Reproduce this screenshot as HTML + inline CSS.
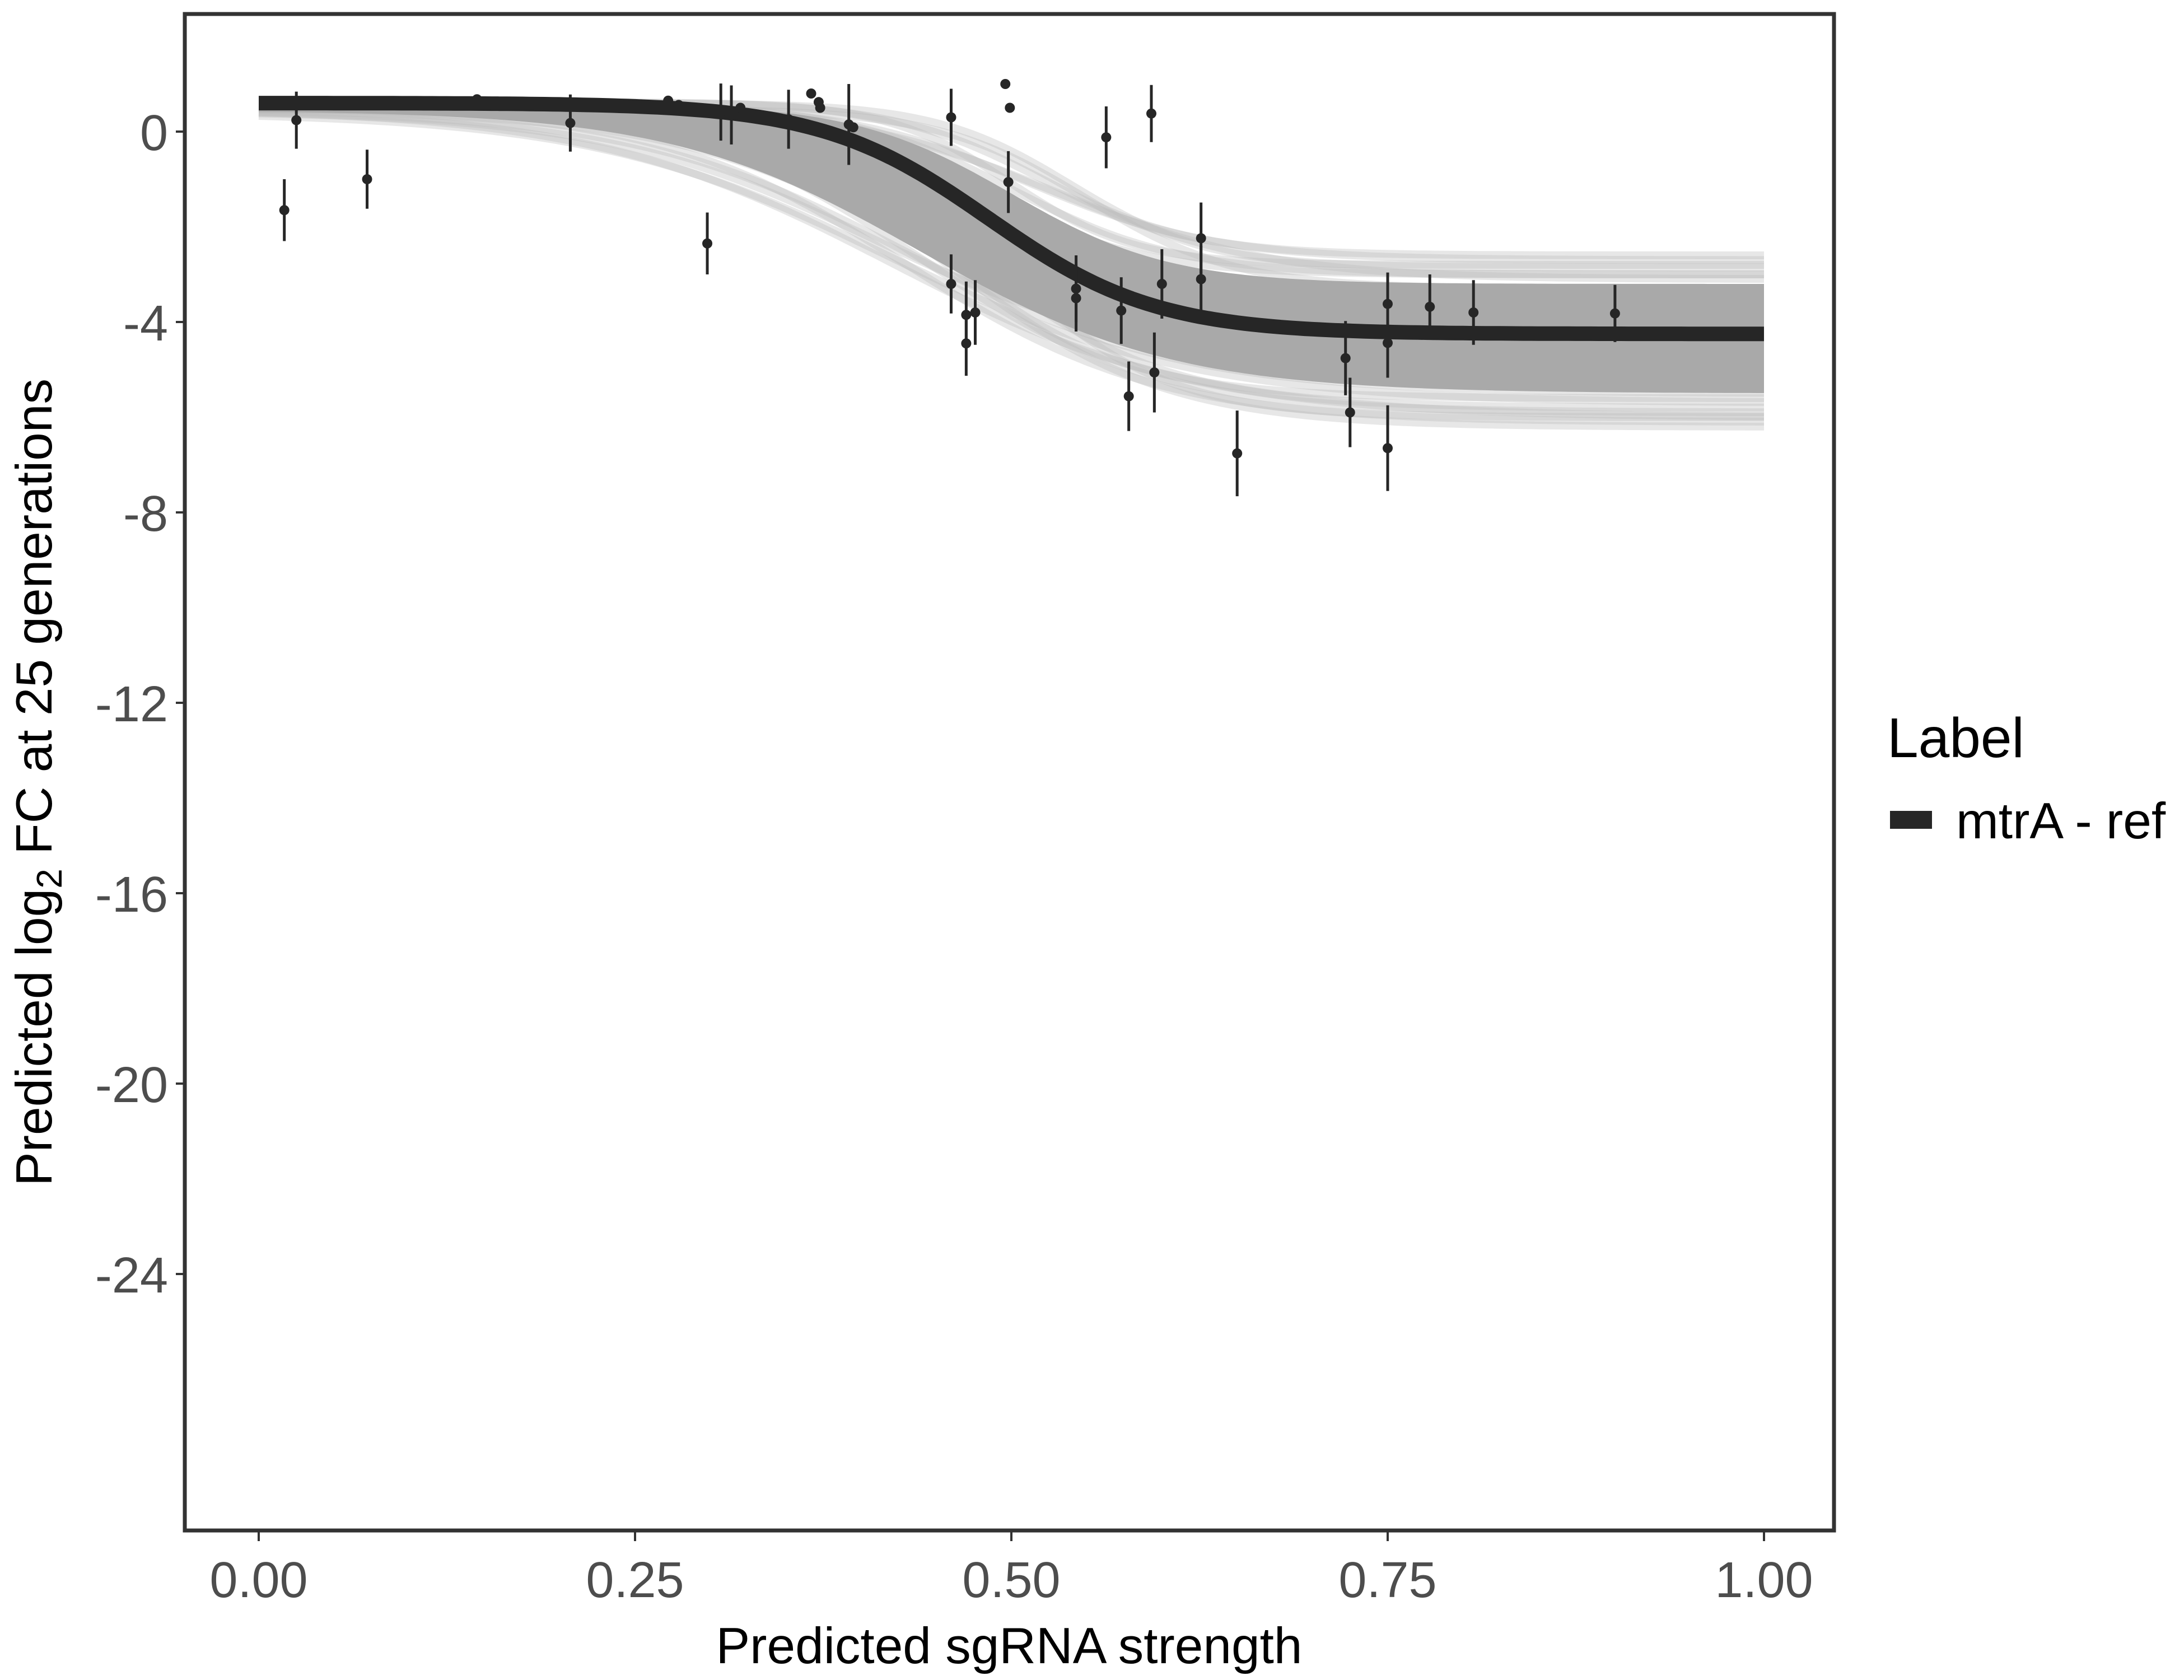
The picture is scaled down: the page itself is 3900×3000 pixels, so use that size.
<!DOCTYPE html>
<html><head><meta charset="utf-8"><style>html,body{margin:0;padding:0;background:#fff}svg{display:block}text{font-family:"Liberation Sans",sans-serif}</style></head>
<body>
<svg id="chart" width="3900" height="3000" viewBox="0 0 3900 3000" xmlns="http://www.w3.org/2000/svg">
<rect x="0" y="0" width="3900" height="3000" fill="#fff"/>
<g id="draws"></g>
<g id="main"></g>
<g id="pts"></g>
<rect x="330" y="25" width="2945" height="2708" fill="none" stroke="#333" stroke-width="7"/>
<g id="axes"></g>
<text x="1802" y="2970" font-size="91" text-anchor="middle" fill="#000">Predicted sgRNA strength</text>
<text transform="translate(92,1397) rotate(-90)" font-size="91" text-anchor="middle" fill="#000">Predicted  log<tspan font-size="64" dy="18">2</tspan><tspan dy="-18"> FC at 25 generations</tspan></text>
<text x="3370" y="1352" font-size="100" fill="#000">Label</text>
<rect x="3375" y="1448" width="75" height="32" fill="#262626"/>
<text x="3493" y="1497" font-size="91" fill="#000">mtrA - ref</text>
</svg>
<script>
const xTicks=[0,0.25,0.5,0.75,1];
const xTickLabels=["0.00","0.25","0.50","0.75","1.00"];
const yTicks=[0,-4,-8,-12,-16,-20,-24];
const yTickLabels=["0","-4","-8","-12","-16","-20","-24"];
const ptX=[0.017,0.025,0.072,0.145,0.207,0.272,0.279,0.298,0.307,0.314,0.32,0.352,0.367,0.372,0.373,0.392,0.395,0.46,0.46,0.47,0.47,0.476,0.496,0.499,0.498,0.543,0.543,0.563,0.573,0.578,0.593,0.595,0.6,0.626,0.626,0.65,0.722,0.725,0.75,0.75,0.75,0.778,0.807,0.901];
const ptY=[-1.65,0.24,-1.0,0.68,0.18,0.65,0.56,-2.35,0.41,0.35,0.5,0.26,0.8,0.62,0.5,0.15,0.09,0.3,-3.2,-3.85,-4.45,-3.8,1.0,0.5,-1.06,-3.3,-3.5,-0.12,-3.76,-5.56,0.38,-5.06,-3.2,-2.24,-3.1,-6.76,-4.76,-5.9,-3.62,-4.44,-6.65,-3.68,-3.8,-3.82];
const ptErr=[0.65,0.6,0.62,0,0.6,0,0,0.65,0.6,0.62,0,0.62,0,0,0,0.85,0,0.6,0.62,0.7,0.68,0.68,0,0,0.65,0.7,0.7,0.65,0.7,0.73,0.6,0.84,0.73,0.75,0.7,0.9,0.78,0.73,0.66,0.73,0.9,0.68,0.68,0.6];
const fitTop=0.6, fitBot=-4.25, fitMid=0.485, fitK=18;
const drawTop=[0.62,0.6,0.6,0.58,0.55,0.52,0.5,0.5,0.48,0.45,0.45,0.42,0.6,0.57,0.55,0.53,0.5,0.48,0.44,0.62,0.58,0.55,0.5,0.47];
const drawBot=[-2.6,-2.7,-2.85,-3.0,-3.1,-3.6,-4.0,-4.4,-4.8,-5.2,-5.5,-5.7,-5.8,-5.9,-6.0,-6.1,-6.2,-3.3,-5.0,-2.8,-5.6,-3.0,-6.0,-5.3];
const drawMid=[0.52,0.51,0.54,0.5,0.53,0.49,0.47,0.46,0.45,0.44,0.43,0.42,0.47,0.44,0.49,0.43,0.46,0.55,0.41,0.5,0.45,0.48,0.42,0.5];
const drawK=[20,16,22,18,14,17,15,14,13,12,11,10,15,13,18,12,14,20,11,24,16,19,10,15];
const X=v=>462+v*2688, Y=v=>235-v*85;
const NS="http://www.w3.org/2000/svg";
function logi(t,b,m,k,x){return t+(b-t)/(1+Math.exp(-k*(x-m)));}
function curvePath(t,b,m,k){let d="";for(let i=0;i<=200;i++){const x=i/200;d+=(i?"L":"M")+X(x).toFixed(1)+","+Y(logi(t,b,m,k,x)).toFixed(1);}return d;}
const dg=document.getElementById('draws');
for(let i=0;i<drawTop.length;i++){
 const p=document.createElementNS(NS,'path');
 p.setAttribute('d',curvePath(drawTop[i],drawBot[i],drawMid[i],drawK[i]));
 p.setAttribute('fill','none');p.setAttribute('stroke','#bbb');p.setAttribute('stroke-opacity','0.35');p.setAttribute('stroke-width','14');
 
 
 dg.appendChild(p);
}
const band=document.createElementNS(NS,'path');
let bd=curvePath(0.6,-3.2,0.5,19);
let lo="";for(let i=200;i>=0;i--){const x=i/200;lo+="L"+X(x).toFixed(1)+","+Y(logi(0.45,-5.5,0.44,12,x)).toFixed(1);}
band.setAttribute('d',bd+lo+"Z");band.setAttribute('fill','#a9a9a9');


dg.appendChild(band);
const m=document.createElementNS(NS,'path');
m.setAttribute('d',curvePath(fitTop,fitBot,fitMid,fitK));
m.setAttribute('fill','none');m.setAttribute('stroke','#262626');m.setAttribute('stroke-width','26');


document.getElementById('main').appendChild(m);
const pg=document.getElementById('pts');
for(let i=0;i<ptX.length;i++){
 if(ptErr[i]>0){const l=document.createElementNS(NS,'line');
  l.setAttribute('x1',X(ptX[i]));l.setAttribute('x2',X(ptX[i]));l.setAttribute('y1',Y(ptY[i]+ptErr[i]));l.setAttribute('y2',Y(ptY[i]-ptErr[i]));
  l.setAttribute('stroke','#262626');l.setAttribute('stroke-width','5');
  
  
  pg.appendChild(l);}
 const c=document.createElementNS(NS,'circle');
 c.setAttribute('cx',X(ptX[i]));c.setAttribute('cy',Y(ptY[i]));c.setAttribute('r','9');c.setAttribute('fill','#262626');
 
 
 pg.appendChild(c);
}
const ag=document.getElementById('axes');
xTicks.forEach((v,i)=>{
 const l=document.createElementNS(NS,'line');
 l.setAttribute('x1',X(v));l.setAttribute('x2',X(v));l.setAttribute('y1',2736);l.setAttribute('y2',2752);l.setAttribute('stroke','#333');l.setAttribute('stroke-width','4');
 
 
 ag.appendChild(l);
 const t=document.createElementNS(NS,'text');
 t.setAttribute('x',X(v));t.setAttribute('y',2852);t.setAttribute('font-size','90');t.setAttribute('text-anchor','middle');t.setAttribute('fill','#4d4d4d');
 t.textContent=xTickLabels[i];
 
 
 ag.appendChild(t);
});
yTicks.forEach((v,i)=>{
 const l=document.createElementNS(NS,'line');
 l.setAttribute('x1',314);l.setAttribute('x2',330);l.setAttribute('y1',Y(v));l.setAttribute('y2',Y(v));l.setAttribute('stroke','#333');l.setAttribute('stroke-width','4');
 
 
 ag.appendChild(l);
 const t=document.createElementNS(NS,'text');
 t.setAttribute('x',300);t.setAttribute('y',Y(v)+33);t.setAttribute('font-size','90');t.setAttribute('text-anchor','end');t.setAttribute('fill','#4d4d4d');
 t.textContent=yTickLabels[i];
 
 
 ag.appendChild(t);
});
</script>
</body></html>
